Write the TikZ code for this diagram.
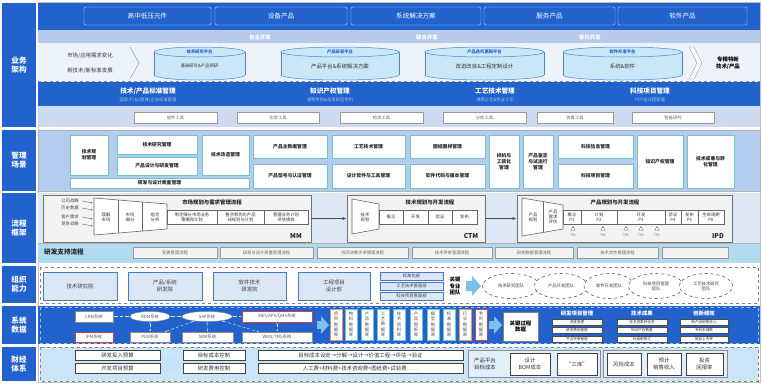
\documentclass[tikz,border=0pt]{standalone}
\usepackage{fontspec}
\setmainfont{Noto Sans CJK SC}
\usepackage{tikz}
\usetikzlibrary{arrows.meta}
\usetikzlibrary{shapes.geometric}

\definecolor{dblue}{RGB}{34,98,204}
\definecolor{lband}{RGB}{184,202,234}
\definecolor{cylrow}{RGB}{238,243,250}
\definecolor{cylfill}{RGB}{202,231,248}
\definecolor{cylline}{RGB}{70,135,210}
\definecolor{mgband}{RGB}{180,204,238}
\definecolor{tealb}{RGB}{112,196,200}
\definecolor{pband}{RGB}{222,232,245}
\definecolor{procfill}{RGB}{243,243,244}
\definecolor{sband}{RGB}{178,219,242}
\definecolor{orgfill}{RGB}{220,231,246}
\definecolor{orgline}{RGB}{72,120,200}
\definecolor{arrowblue}{RGB}{125,192,236}
\definecolor{fband}{RGB}{204,229,246}
\definecolor{redb}{RGB}{212,62,84}
\definecolor{orangeb}{RGB}{230,152,92}

\newcommand{\ftiny}{\fontsize{4.3}{5.2}\selectfont}
\newcommand{\fmg}{\fontsize{4.8}{5.8}\selectfont}
\newcommand{\fsmall}{\fontsize{5.4}{6.4}\selectfont}
\newcommand{\fmid}{\fontsize{6.6}{7.6}\selectfont}
\newcommand{\fbig}{\fontsize{7.6}{9}\selectfont}

% box from corner to corner: style, name, x1, y1, x2, y2, text
\newcommand{\mybox}[7]{%
\node[#1, minimum width={(#5-#3)*1pt}, minimum height={(#6-#4)*1pt}] (#2)
  at ({(#3+#5)/2},{(#4+#6)/2}) {#7};}

% platform cylinder: name, x1, x2, title, text
\newcommand{\platform}[5]{%
\filldraw[cylst] ({(#2+#3)/2},75) ellipse [x radius={(#3-#2)/2*1pt}, y radius=5pt];
\fill[cylfill] (#2,52) rectangle (#3,75);
\draw[cylst] (#2,52) -- (#2,75) (#3,52) -- (#3,75);
\filldraw[cylst] ({(#2+#3)/2},52) ellipse [x radius={(#3-#2)/2*1pt}, y radius=5pt];
\node[cyltitle] (#1t) at ({(#2+#3)/2},52) {#4};
\node[cylsub] (#1) at ({(#2+#3)/2},66) {#5};}

\tikzset{
lab/.style={fill=dblue, text=white, font=\fbig\bfseries, align=center, inner sep=0pt},
topbox/.style={draw=white!75!dblue, rounded corners=2pt, text=white, font=\fmid, inner sep=0pt},
bandtxt/.style={text=white, font=\fsmall\bfseries},
cylst/.style={draw=cylline, fill=cylfill, line width=0.5pt},
cyltitle/.style={text=dblue, font=\ftiny\bfseries},
cylsub/.style={text=black!80, font=\fsmall},
sidetxt/.style={text=black!80, font=\fsmall, align=left},
stdtitle/.style={text=white, font=\fmid\bfseries},
stdsub/.style={text=white!65!dblue, font=\ftiny},
toolbox/.style={draw=black!40, fill=white, text=black!60, font=\ftiny, inner sep=0pt},
mgbox/.style={draw=tealb, line width=0.6pt, fill=white, text=black!85, font=\fmg\bfseries, align=center, inner sep=0pt},
procbox/.style={draw=black!55, fill=procfill, line width=0.6pt, inner sep=0pt},
stepbox/.style={draw=black!60, fill=white, text=black!80, font=\ftiny, align=center, inner sep=0pt},
proctitle/.style={text=black!85, font=\fsmall\bfseries},
procname/.style={text=black!85, font=\fmid\bfseries},
inlab/.style={text=black!75, font=\ftiny},
trimark/.style={regular polygon, regular polygon sides=3, draw=black!60, fill=white, minimum size=5pt, inner sep=0pt},
trlab/.style={text=black!60, font=\fontsize{3.2}{3.6}\selectfont},
supbox/.style={draw=black!40, fill=procfill, text=black!60, font=\ftiny, inner sep=0pt},
orgbox/.style={draw=orgline, fill=orgfill, line width=0.6pt, text=black!75, font=\fsmall, align=center, inner sep=0pt},
smallorg/.style={draw=orgline, fill=orgfill, text=black!75, font=\ftiny, inner sep=0pt},
team/.style={ellipse, draw=black!65, dashed, line width=0.6pt, fill=white, text=black!75, font=\ftiny, align=center, inner sep=0pt},
sysbox/.style={draw=black!45, fill=white, text=black!65, font=\ftiny, inner sep=0pt},
sysoval/.style={ellipse, draw=black!45, fill=white, text=black!65, font=\ftiny, inner sep=0pt},
dbbox/.style={draw=tealb, fill=white, line width=0.6pt, text=black!70, font=\ftiny, align=center, inner sep=0pt},
keybox/.style={draw=black!50, fill=white, text=black, font=\fsmall\bfseries, align=center, inner sep=0pt},
kpibox/.style={draw=black!70, fill=white, text=black!80, font=\fontsize{3.6}{4}\selectfont, inner sep=0pt},
finbox/.style={draw=black!75, fill=white, text=black!80, font=\fsmall, align=center, inner sep=0pt},
groupbox/.style={draw=black!45, fill=fband!60!white, inner sep=0pt},
link/.style={densely dashed, draw=white!80!dblue, line width=0.5pt, {Latex[length=2pt]}-{Latex[length=2pt]}},
flowarrow/.style={fill=arrowblue}
}

\begin{document}
\begin{tikzpicture}[x=1pt,y=-1pt]
\useasboundingbox (0,0) rectangle (762,383);
\fill[white] (0,0) rectangle (762,383);
\draw[black!25] (38,2) rectangle (760,382);

% business architecture
\mybox{lab}{lbiz}{2}{3}{36}{127}{业务\\架构}
\fill[dblue] (38,3) rectangle (760,30);
\mybox{topbox}{prod1}{84}{7}{211}{25}{高中低压元件}
\mybox{topbox}{prod2}{215}{7}{347}{25}{设备产品}
\mybox{topbox}{prod3}{351}{7}{481}{25}{系统解决方案}
\mybox{topbox}{prod4}{484}{7}{615}{25}{服务产品}
\mybox{topbox}{prod5}{618}{7}{747}{25}{软件产品}
\fill[lband] (38,30) rectangle (760,43);
\node[bandtxt] (dev1) at (260,37) {自主开发};
\node[bandtxt] (dev2) at (427,37) {联合开发};
\node[bandtxt] (dev3) at (590,37) {委托开发};
\fill[cylrow] (38,43) rectangle (760,81);
\node[sidetxt] (drv1) at (90,56) {市场/应用需求变化};
\node[sidetxt] (drv2) at (90,71) {新技术/新标准发展};
\draw[black!45] (130,47) -- (139,63) -- (130,79);
\platform{plat1}{154}{245}{技术研究平台}{\ftiny 基础研究\&产品预研}
\platform{plat2}{281}{399}{产品研发平台}{产品平台\&系统解决方案}
\platform{plat3}{425}{544}{产品迭代更新平台}{改进改良\&工程定制设计}
\platform{plat4}{563}{682}{软件开发平台}{系统\&软件}
\filldraw[draw=black!45, fill=white] (689,47) -- (694,47) -- (702,63) -- (694,79) -- (689,79) -- (697,63) -- cycle;
\node[text=black, font=\fsmall\bfseries, align=center] (goal) at (728,63) {专精特新\\技术/产品};
\draw[dashed, black!45] (38,81) -- (760,81);
\fill[dblue] (38,82) rectangle (760,106);
\node[stdtitle] (mg1) at (148,91) {技术/产品标准管理};
\node[stdsub] (mg1s) at (148,100) {国家/行业/团体/企业标准管理};
\node[stdtitle] (mg2) at (330,91) {知识产权管理};
\node[stdsub] (mg2s) at (330,100) {发明专利\&实用新型专利};
\node[stdtitle] (mg3) at (495,91) {工艺技术管理};
\node[stdsub] (mg3s) at (495,100) {通用工艺\&专业工艺};
\node[stdtitle] (mg4) at (650,91) {科技项目管理};
\node[stdsub] (mg4s) at (650,100) {PDT全过程管理};
\fill[lband!70!white] (38,106) rectangle (760,127);
\mybox{toolbox}{tool1}{134}{112}{217}{123}{软件工具}
\mybox{toolbox}{tool2}{237}{112}{319}{123}{实验工具}
\mybox{toolbox}{tool3}{340}{112}{423}{123}{检测工具}
\mybox{toolbox}{tool4}{443}{112}{526}{123}{分析工具}
\mybox{toolbox}{tool5}{537}{112}{613}{123}{仿真工具}
\mybox{toolbox}{tool6}{632}{112}{714}{123}{智能研判}

% management scenarios
\mybox{lab}{lmgt}{2}{130}{36}{191}{管理\\场景}
\filldraw[draw=black!30, fill=mgband] (38,130) rectangle (760,191);
\mybox{mgbox}{sc1}{70}{135}{108}{175}{技术规\\划管理}
\mybox{mgbox}{sc2}{117}{135}{197}{154}{技术研究管理}
\mybox{mgbox}{sc3}{117}{157}{197}{175}{产品设计与研发管理}
\mybox{mgbox}{sc4}{202}{135}{249}{175}{技术改造管理}
\mybox{mgbox}{sc5}{70}{178}{249}{188}{研发与设计质量管理}
\mybox{mgbox}{sc6}{253}{135}{327}{158}{产品主数据管理}
\mybox{mgbox}{sc7}{253}{164}{327}{188}{产品型号与认证管理}
\mybox{mgbox}{sc8}{332}{135}{405}{158}{工艺技术管理}
\mybox{mgbox}{sc9}{332}{164}{405}{188}{设计软件与工具管理}
\mybox{mgbox}{sc10}{410}{135}{485}{158}{图纸图样管理}
\mybox{mgbox}{sc11}{410}{164}{485}{188}{软件代码与版本管理}
\mybox{mgbox}{sc12}{489}{135}{519}{188}{样机与\\工装化\\管理}
\mybox{mgbox}{sc13}{523}{135}{553}{188}{产品鉴定\\与试运行\\管理}
\mybox{mgbox}{sc14}{558}{135}{633}{158}{科技信息管理}
\mybox{mgbox}{sc15}{558}{164}{633}{188}{科技项目管理}
\mybox{mgbox}{sc16}{637}{135}{683}{188}{知识产权管理}
\mybox{mgbox}{sc17}{687}{135}{734}{188}{技术成果与转\\化管理}

% process framework
\mybox{lab}{lproc}{2}{193}{36}{263}{流程\\框架}
\fill[pband] (38,193) rectangle (760,263);
\mybox{procbox}{mm}{43}{195}{311}{242}{}
\mybox{procbox}{ctm}{347}{195}{485}{242}{}
\mybox{procbox}{ipd}{517}{195}{732}{242}{}
\draw[-{Latex[length=4pt]}, black!70, line width=0.6pt] (mm.east) -- (ctm.west);
\draw[-{Latex[length=4pt]}, black!70, line width=0.6pt] (ctm.east) -- (ipd.west);

\node[inlab] (in1) at (70,201) {公司战略};
\node[inlab] (in2) at (70,208) {历史数据};
\node[inlab] (in3) at (70,217) {客户需求};
\node[inlab] (in4) at (70,224) {竞争战略};
\coordinate (fin1) at (93,203);
\coordinate (fin2) at (93,210);
\coordinate (fin3) at (93,219);
\coordinate (fin4) at (93,226);
\draw[-{Latex[length=2pt]}, black!60, line width=0.4pt] (in1.east) -- (fin1);
\draw[-{Latex[length=2pt]}, black!60, line width=0.4pt] (in2.east) -- (fin2);
\draw[-{Latex[length=2pt]}, black!60, line width=0.4pt] (in3.east) -- (fin3);
\draw[-{Latex[length=2pt]}, black!60, line width=0.4pt] (in4.east) -- (fin4);
\filldraw[draw=black!60, fill=white, line width=0.6pt] (94,198) -- (167,204) -- (167,229) -- (94,235) -- cycle;
\draw[black!60] (118,200) -- (118,233) (142,202) -- (142,231);
\node[stepbox, draw=none, fill=none] (mms1) at (106,217) {理解\\市场};
\node[stepbox, draw=none, fill=none] (mms2) at (130,217) {市场\\细分};
\node[stepbox, draw=none, fill=none] (mms3) at (155,217) {组合\\分析};
\mybox{stepbox}{mms4}{167}{210}{217}{224}{制定细分市场业务\\策略和计划}
\mybox{stepbox}{mms5}{217}{210}{264}{224}{整合和优化产品\\线规划与计划}
\mybox{stepbox}{mms6}{264}{210}{308}{224}{管理业务计划\\评估绩效}
\node[proctitle] (mmt) at (212,202) {市场规划与需求管理流程};
\node[procname] (mmn) at (296,236) {MM};

\filldraw[draw=black!60, fill=white, line width=0.6pt] (352,199) -- (379,204) -- (379,229) -- (352,234) -- cycle;
\node[stepbox, draw=none, fill=none] (cts0) at (365,217) {技术\\规划};
\mybox{stepbox}{cts1}{379}{210}{403}{224}{概念}
\mybox{stepbox}{cts2}{403}{210}{428}{224}{开发}
\mybox{stepbox}{cts3}{428}{210}{452}{224}{验证}
\mybox{stepbox}{cts4}{452}{210}{477}{224}{发布}
\node[proctitle] (ctmt) at (430,202) {技术规划与开发流程};
\node[procname] (ctmn) at (471,236) {CTM};

\filldraw[draw=black!60, fill=white, line width=0.6pt] (522,198) -- (563,205) -- (563,229) -- (522,236) -- cycle;
\draw[black!60] (543,202) -- (543,232);
\node[stepbox, draw=none, fill=none] (ips0) at (533,217) {产品\\规划};
\node[stepbox, draw=none, fill=none] (ips1) at (553,217) {产品\\需求\\评估};
\mybox{stepbox}{ips2}{563}{210}{581}{224}{概念\\P1}
\mybox{stepbox}{ips3}{581}{210}{617}{224}{计划\\P2}
\mybox{stepbox}{ips4}{617}{210}{665}{224}{开发\\P3}
\mybox{stepbox}{ips5}{665}{210}{681}{224}{验证\\P4}
\mybox{stepbox}{ips6}{681}{210}{698}{224}{发布\\P5}
\mybox{stepbox}{ips7}{698}{210}{724}{224}{生命周期\\P6}
\node[proctitle] (ipdt) at (615,202) {产品规划与开发流程};
\node[procname] (ipdn) at (718,236) {IPD};
\node[trimark] (tr1) at (573,229) {};
\node[trimark] (tr2) at (603,229) {};
\node[trimark] (tr3) at (626,229) {};
\node[trimark] (tr4) at (641,229) {};
\node[trimark] (tr5) at (657,229) {};
\node[trlab] (tr1l) at (573,235) {TR1};
\node[trlab] (tr2l) at (603,235) {TR2};
\node[trlab] (tr3l) at (626,235) {TR3};
\node[trlab] (tr4l) at (641,235) {TR4};
\node[trlab] (tr5l) at (657,235) {TR5};

\fill[sband] (38,243) rectangle (760,263);
\draw[black!30] (38,243) -- (760,243);
\node[text=black!85, font=\fmid\bfseries] (supt) at (64,252) {研发支持流程};
\mybox{supbox}{sup1}{133}{247}{217}{258}{变更管理流程}
\mybox{supbox}{sup2}{220}{247}{313}{258}{研发与设计质量管理流程}
\mybox{supbox}{sup3}{317}{247}{408}{258}{合同决策评审管理流程}
\mybox{supbox}{sup4}{412}{247}{492}{258}{技术评审管理流程}
\mybox{supbox}{sup5}{495}{247}{573}{258}{研发数据管理流程}
\mybox{supbox}{sup6}{577}{247}{658}{258}{技术合作管理流程}
\mybox{supbox}{sup7}{662}{247}{728}{258}{}

% organisation
\mybox{lab}{lorg}{2}{266}{36}{303}{组织\\能力}
\draw[dashed, black!50, fill=white] (40,267) rectangle (758,303);
\mybox{orgbox}{org1}{43}{272}{117}{300}{技术研究院}
\mybox{orgbox}{org2}{128}{272}{202}{300}{产品/系统\\研发院}
\mybox{orgbox}{org3}{213}{272}{286}{300}{软件技术\\研发院}
\mybox{orgbox}{org4}{298}{272}{370}{300}{工程项目\\设计部}
\mybox{smallorg}{dep1}{380}{272}{443}{280.5}{标准化部}
\mybox{smallorg}{dep2}{380}{282}{443}{290.5}{工艺技术管理部}
\mybox{smallorg}{dep3}{380}{292}{443}{300.5}{科技项目管理部}
\node[text=black, font=\fsmall\bfseries, align=center] (key) at (455,286) {关键\\专业\\团队};
\fill[flowarrow] (466,281) -- (472,281) -- (472,276) -- (481,286) -- (472,296) -- (472,291) -- (466,291) -- cycle;
\node[team, minimum width=57pt, minimum height=25pt] (team1) at (511,286) {技术研究团队};
\node[team, minimum width=53pt, minimum height=25pt] (team2) at (561,286) {产品开发团队};
\node[team, minimum width=50pt, minimum height=25pt] (team3) at (609,286) {软件开发团队};
\node[team, minimum width=55pt, minimum height=25pt] (team4) at (656,286) {科技项目管理\\团队};
\node[team, minimum width=53pt, minimum height=25pt] (team5) at (706,286) {工艺技术研究\\团队};

% systems and data
\mybox{lab}{lsys}{2}{306}{36}{344}{系统\\数据}
\fill[dblue] (38,306) rectangle (760,344);
\draw[dashed, white!60!dblue] (40,307) rectangle (758,343);
\mybox{sysbox}{crm}{75}{311}{113}{322}{CRM系统}
\node[sysoval, minimum width=40pt, minimum height=10pt] (rdm) at (150,316.5) {RDM系统};
\node[sysoval, minimum width=50pt, minimum height=10pt] (sap) at (207,316.5) {SAP系统};
\mybox{sysbox, draw=redb, line width=0.7pt}{mes}{242}{311}{312}{322}{MES/APS/QMS系统}
\mybox{sysbox, draw=redb, line width=0.7pt}{ipm}{75}{332}{113}{342}{IPM系统}
\mybox{sysbox}{plm}{130}{332}{170}{342}{PLM系统}
\mybox{sysbox}{srm}{182}{332}{233}{342}{SRM系统}
\mybox{sysbox}{wms}{242}{332}{312}{342}{WMS/TMS系统}
\draw[link] (crm) -- (rdm);
\draw[link] (rdm) -- (sap);
\draw[link] (sap) -- (mes);
\draw[link] (rdm) -- (plm);
\draw[link] (sap) -- (srm);
\draw[link] (mes) -- (wms);
\draw[link] (sap) -- (plm);
\draw[link] (sap) -- (wms);
\fill[flowarrow] (317,321) -- (321,321) -- (321,316) -- (329,325) -- (321,334) -- (321,329) -- (317,329) -- cycle;
\mybox{dbbox, draw=orangeb}{db1}{330}{309}{342}{340}{项\\目\\数\\据\\库}
\mybox{dbbox}{db2}{345}{309}{357}{340}{物\\料\\数\\据\\库}
\mybox{dbbox}{db3}{361}{309}{373}{340}{产\\品\\数\\据\\库}
\mybox{dbbox}{db4}{377}{309}{389}{340}{工\\艺\\数\\据\\库}
\mybox{dbbox}{db5}{393}{309}{405}{340}{技\\术\\资\\料\\库}
\mybox{dbbox}{db6}{410}{309}{422}{340}{产\\品\\图\\纸\\库}
\mybox{dbbox}{db7}{427}{309}{439}{340}{模\\型\\数\\据\\库}
\mybox{dbbox}{db8}{443}{309}{455}{340}{标\\准\\数\\据\\库}
\mybox{dbbox, draw=orangeb}{db9}{459}{309}{471}{340}{行\\业\\数\\据\\库}
\mybox{dbbox, draw=redb}{db10}{475}{309}{487}{340}{专\\利\\数\\据\\库}
\fill[flowarrow] (489,321) -- (494,321) -- (494,316) -- (502,325) -- (494,334) -- (494,329) -- (489,329) -- cycle;
\mybox{keybox}{keydata}{503}{312}{538}{341}{关键过程\\数据}
\node[text=white, font=\fsmall\bfseries] (kpi1) at (577,313) {研发项目管理};
\node[text=white, font=\fsmall\bfseries] (kpi2) at (642,313) {技术成果};
\node[text=white, font=\fsmall\bfseries] (kpi3) at (704,313) {创新绩效};
\mybox{kpibox}{k11}{552}{319}{602}{325}{进度管理}
\mybox{kpibox}{k12}{552}{327.5}{602}{333.5}{研发费用管理}
\mybox{kpibox}{k13}{552}{336}{602}{342}{节点评审管理}
\mybox{kpibox}{k21}{617}{319}{667}{325}{技术成果转化率}
\mybox{kpibox}{k22}{617}{327.5}{667}{333.5}{知识产权数量}
\mybox{kpibox}{k23}{617}{336}{667}{342}{标准制修订}
\mybox{kpibox}{k31}{680}{319}{728}{325}{新产品销售收入}
\mybox{kpibox}{k32}{680}{327.5}{728}{333.5}{专利申请数}
\mybox{kpibox}{k33}{680}{336}{728}{342}{新品上市率}

% finance
\mybox{lab}{lfin}{2}{347}{36}{381}{财经\\体系}
\draw[dashed, black!50, fill=fband] (40,347) rectangle (758,381);
\fill[arrowblue!45] (162,356) -- (170,356) -- (170,350) -- (181,364) -- (170,378) -- (170,372) -- (162,372) -- cycle;
\mybox{finbox}{fin11}{75}{350}{160}{360}{研发投入预算}
\mybox{finbox}{fin12}{75}{363}{160}{373}{开发项目预算}
\mybox{finbox}{fin21}{183}{350}{245}{360}{目标成本控制}
\mybox{finbox}{fin22}{183}{363}{245}{373}{研发费用控制}
\mybox{finbox}{fin31}{258}{350}{463}{360}{目标成本设定→分解→设计→价值工程→评估→验证}
\mybox{finbox}{fin32}{258}{363}{463}{373}{人工费+材料费+技术咨询费+图纸费+试验费……}
\mybox{groupbox}{grp1}{468}{350}{600}{377}{}
\node[text=black!80, font=\fsmall, align=center] (grp1t) at (485,364) {产品平台\\目标成本};
\mybox{finbox}{cost1}{510}{353}{550}{375}{设计\\BOM成本}
\mybox{finbox}{cost2}{557}{353}{597}{375}{“三库”}
\mybox{groupbox}{grp2}{603}{350}{727}{377}{}
\mybox{finbox}{cost3}{607}{353}{641}{375}{风险成本}
\mybox{finbox}{cost4}{647}{353}{681}{375}{预计\\销售收入}
\mybox{finbox}{cost5}{686}{353}{723}{375}{投资\\回报率}
\end{tikzpicture}
\end{document}
